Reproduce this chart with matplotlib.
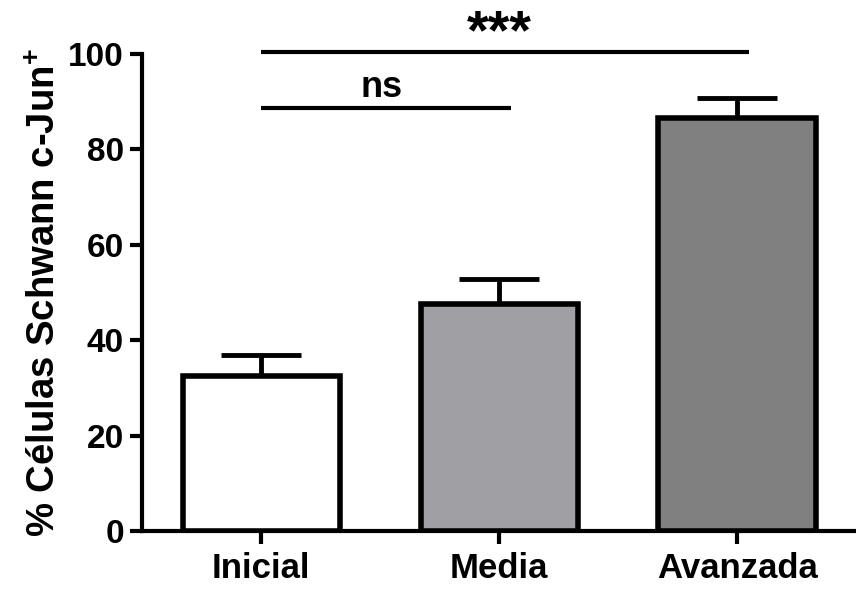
import matplotlib
matplotlib.use("Agg")
import matplotlib.pyplot as plt

categories = ["Inicial", "Media", "Avanzada"]
means = [32.5, 47.5, 86.5]
errors = [4.5, 5.3, 4.2]
colors = ["#ffffff", "#a09fa4", "#808080"]
yticks = [0, 20, 40, 60, 80, 100]
ylabel = "% Células Schwann c-Jun$^{\\mathbf{+}}$"

plt.rcParams['font.family'] = ['Liberation Sans', 'DejaVu Sans']
plt.rcParams['font.weight'] = 'bold'
plt.rcParams['mathtext.fontset'] = 'custom'
plt.rcParams['mathtext.bf'] = 'Liberation Sans:bold'

fig = plt.figure(figsize=(8.56, 5.9), dpi=100)
ax = fig.add_axes([0.166, 0.1, 0.834, 0.8085])

x = list(range(len(categories)))
ax.bar(x, means, width=0.66, color=colors, edgecolor="black", linewidth=4, zorder=3)
ax.errorbar(x, means, yerr=[[0]*len(errors), errors], fmt="none", ecolor="black",
            elinewidth=3.5, capsize=29, capthick=3.5, zorder=2)

ax.set_xlim(-0.5, 2.5)
ax.set_ylim(0, 100)
ax.set_yticks(yticks)
ax.set_xticks(x)
ax.set_xticklabels(categories, fontsize=25, fontweight='bold')
ax.set_yticklabels([str(t) for t in yticks], fontsize=24, fontweight='bold')
ax.set_ylabel(ylabel, fontsize=27.5, fontweight='bold', labelpad=4)

for side in ["top", "right"]:
    ax.spines[side].set_visible(False)
for side in ["left", "bottom"]:
    ax.spines[side].set_linewidth(3)
ax.tick_params(axis='y', width=3, length=9, pad=4)
ax.tick_params(axis='x', width=3, length=9, pad=6)

# significance brackets
ax.plot([0, 2.05], [100.4, 100.4], color="black", lw=3, clip_on=False, solid_capstyle='butt')
ax.text(1.0, 101.1, "***", ha="center", va="baseline", fontsize=40, fontweight='bold')
ax.plot([0, 1.05], [88.7, 88.7], color="black", lw=3, clip_on=False, solid_capstyle='butt')
ax.text(0.507, 91, "ns", ha="center", va="baseline", fontsize=26, fontweight='bold')

fig.savefig("out.png", dpi=100)
